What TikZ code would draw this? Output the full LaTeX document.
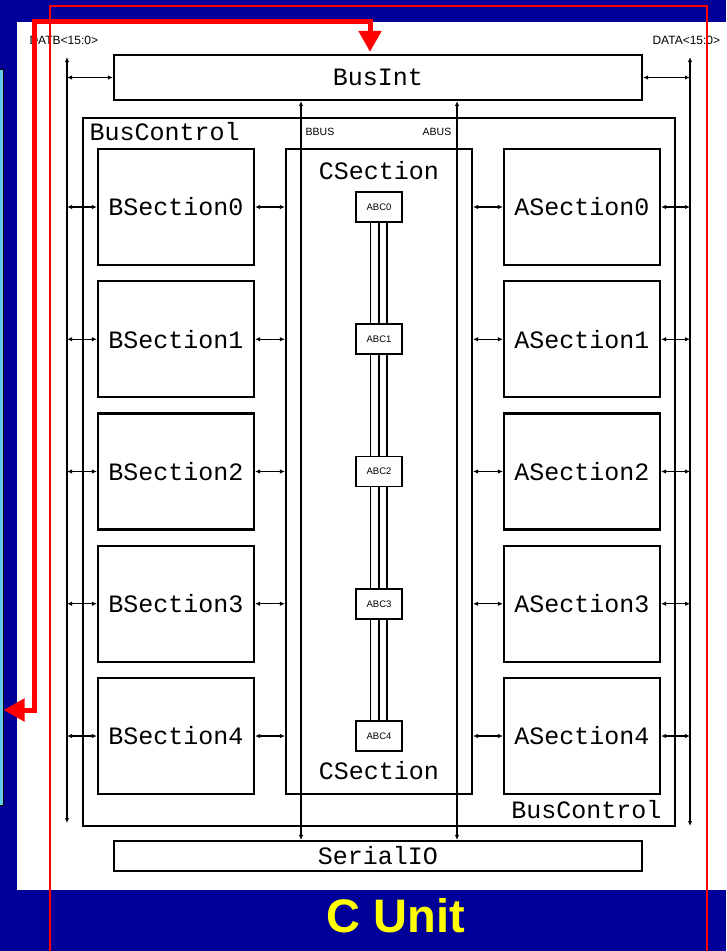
\documentclass[tikz,border=0pt]{standalone}
\usepackage{fontspec}
\setmainfont{Liberation Sans}
\newfontfamily\dfont{Liberation Mono}
\usetikzlibrary{arrows.meta}
\definecolor{bgblue}{HTML}{000099}
\definecolor{panelblue}{HTML}{66CCEE}
\definecolor{titleyellow}{HTML}{FFFF00}
\begin{document}
\begin{tikzpicture}[x=1pt,y=-1pt,
  bigtext/.style={font=\dfont\fontsize{25}{25}\selectfont},
  smalltext/.style={font=\fontsize{10.5}{10.5}\selectfont},
  sect/.style={draw,line width=2.2pt,inner sep=0pt,minimum width=156pt,minimum height=116pt,bigtext},
  wide/.style={draw,line width=2.2pt,inner sep=0pt,minimum width=528pt,bigtext},
  abcbox/.style={draw,line width=1.8pt,inner sep=0pt,minimum width=46pt,minimum height=30pt,font=\fontsize{9.5}{9.5}\selectfont},
  bus/.style={line width=1.2pt,{Latex[length=5pt,width=4.5pt]}-{Latex[length=5pt,width=4.5pt]}},
  triple/.style={line width=1.1pt},
  redpath/.style={draw=red,line width=5pt,{Triangle[length=21pt,width=22pt]}-{Triangle[length=21pt,width=22pt]}},
  redframe/.style={draw=red,line width=1.8pt}]
\useasboundingbox (0,0) rectangle (726,951);
\fill[bgblue] (0,0) rectangle (726,951);
% left panel (partially visible)
\node[draw=black,line width=1pt,fill=panelblue,inner sep=0pt,minimum width=20pt,minimum height=736pt] (lp) at (-7,437) {};
% white sheet
\fill[white] (17,22) rectangle (730,890);

% labels of external buses
\node[smalltext,font=\fontsize{12}{12}\selectfont,anchor=west] (datb) at (26,40) {DATB<15:0>};
\node[smalltext,font=\fontsize{12}{12}\selectfont,anchor=west] (data) at (649,40) {DATA<15:0>};

% main boxes
\node[wide,minimum height=45pt] (BusInt) at (378,77.5) {BusInt};
\node[draw,line width=2.2pt,inner sep=0pt,minimum width=592pt,minimum height=708pt] (BusCtl) at (379,472) {};
\node[bigtext,anchor=west] (bcl1) at (86,132) {BusControl};
\node[bigtext,anchor=east] (bcl2) at (665,810) {BusControl};
\node[draw,line width=2.2pt,inner sep=0pt,minimum width=186pt,minimum height=645pt] (CSec) at (379,471.5) {};
\node[bigtext] (cs1) at (379,171) {CSection};
\node[bigtext] (cs2) at (379,771) {CSection};
\node[wide,minimum height=30pt] (SerialIO) at (378,856) {SerialIO};

% bus lines
\coordinate (lbt) at (67,57);
\coordinate (lbb) at (67,823);
\coordinate (rbt) at (690,57);
\coordinate (rbb) at (690,826);
\draw[bus] (lbt) -- (lbb);
\draw[bus] (rbt) -- (rbb);
\draw[bus] (BusInt.west -| lbt) -- (BusInt.west);
\draw[bus] (BusInt.east) -- (BusInt.east -| rbt);

% BBUS / ABUS
\draw[bus] ([xshift=-77pt]BusInt.south) -- ([xshift=-77pt]SerialIO.north);
\draw[bus] ([xshift=79pt]BusInt.south) -- ([xshift=79pt]SerialIO.north);
\node[smalltext] (bbus) at (320,132) {BBUS};
\node[smalltext] (abus) at (437,132) {ABUS};

% sections
\foreach \i in {0,...,4}{
  \pgfmathsetmacro{\yy}{207+132.25*\i}
  \node[sect] (B\i) at (176,\yy) {BSection\i};
  \node[sect] (A\i) at (582,\yy) {ASection\i};
  \node[abcbox] (C\i) at (379,\yy) {ABC\i};
  \draw[bus] (B\i.west -| lbt) -- (B\i.west);
  \draw[bus] (B\i.east) -- (B\i.east -| CSec.west);
  \draw[bus] (A\i.west -| CSec.east) -- (A\i.west);
  \draw[bus] (A\i.east) -- (A\i.east -| rbt);
}
\foreach \i/\j in {0/1,1/2,2/3,3/4}{
  \draw[triple] ([xshift=-8.5pt]C\i.south) -- ([xshift=-8.5pt]C\j.north);
  \draw[triple] (C\i.south) -- (C\j.north);
  \draw[triple] ([xshift=8pt]C\i.south) -- ([xshift=8pt]C\j.north);
}

% red overlay
\draw[redframe] (50,6) rectangle (707,960);
\coordinate (rc1) at (34.5,21.5);
\draw[redpath] (lp.east |- 0,710) -| (rc1) -| ([shift={(-8,-2)}]BusInt.north);

% title
\node[font=\bfseries\fontsize{47}{47}\selectfont,text=titleyellow] (title) at (396,915.5) {C Unit};
\end{tikzpicture}
\end{document}
